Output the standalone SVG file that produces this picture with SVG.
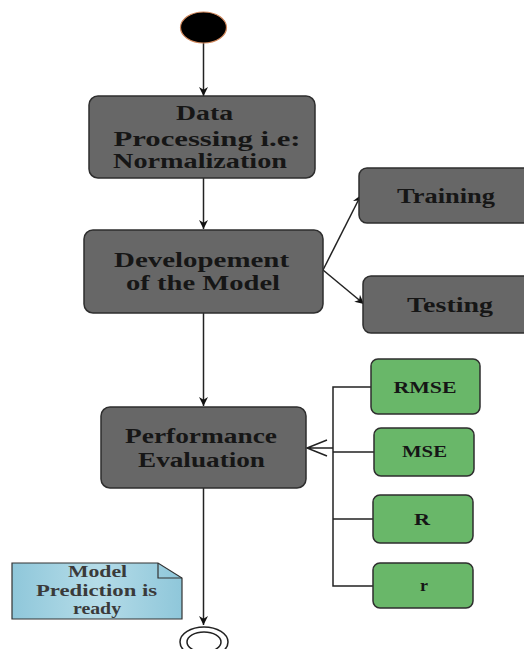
<svg xmlns="http://www.w3.org/2000/svg" width="524" height="649" viewBox="0 0 524 649">
<defs>
<style>
.box{fill:#676767;stroke:#2e2e2e;stroke-width:1.5}
.gbox{fill:#69b769;stroke:#2e2e2e;stroke-width:1.5}
.t{font-family:"Liberation Serif","Times New Roman",serif;font-weight:bold;fill:#161616;text-anchor:middle}
.big{font-size:20px}
.sm{font-size:16px}
.note{fill:#3a3a3a}
.ln{stroke:#222;stroke-width:1.5;fill:none}
</style>
<marker id="ah" viewBox="0 0 10 10" refX="10" refY="5" markerWidth="9" markerHeight="9" orient="auto" markerUnits="userSpaceOnUse">
<path d="M0,0 L10,5 L0,10 L3,5 z" fill="#111"/>
</marker>
<linearGradient id="ng" x1="0" y1="0" x2="1" y2="0">
<stop offset="0" stop-color="#8fc7da"/>
<stop offset="0.5" stop-color="#b5dce8"/>
<stop offset="1" stop-color="#8fc7da"/>
</linearGradient>
</defs>
<g id="connectors">
<line class="ln" x1="203.5" y1="43" x2="203.5" y2="96" marker-end="url(#ah)"/>
<line class="ln" x1="203.5" y1="178" x2="203.5" y2="229" marker-end="url(#ah)"/>
<line class="ln" x1="323" y1="270" x2="361" y2="195" marker-end="url(#ah)"/>
<line class="ln" x1="323" y1="270" x2="364" y2="304" marker-end="url(#ah)"/>
<line class="ln" x1="203.5" y1="313" x2="203.5" y2="406" marker-end="url(#ah)"/>
<line class="ln" x1="203.5" y1="488" x2="203.5" y2="625" marker-end="url(#ah)"/>
<path class="ln" d="M371,387 H333 V586 H373 M333,452 H374 M333,519 H373 M333,448 H307 M327,440 L307,448 L327,456"/>
</g>
<g id="start"><ellipse cx="203.5" cy="27.5" rx="23" ry="15.5" fill="#000" stroke="#d0865a" stroke-width="1.2"/></g>
<g id="data-processing">
<rect class="box" x="89" y="96" width="226" height="82" rx="9"/>
<text class="t big" transform="translate(204.5,120) scale(1.38,1)" textLength="41.3" lengthAdjust="spacingAndGlyphs">Data</text>
<text class="t big" transform="translate(207,146) scale(1.38,1)" textLength="135.5" lengthAdjust="spacingAndGlyphs">Processing i.e:</text>
<text class="t big" transform="translate(200,168) scale(1.38,1)" textLength="126.1" lengthAdjust="spacingAndGlyphs">Normalization</text>
</g>
<g id="development">
<rect class="box" x="84" y="230" width="239" height="83" rx="9"/>
<text class="t big" transform="translate(201.5,267) scale(1.38,1)" textLength="126.8" lengthAdjust="spacingAndGlyphs">Developement</text>
<text class="t big" transform="translate(203,290) scale(1.38,1)" textLength="111.6" lengthAdjust="spacingAndGlyphs">of the Model</text>
</g>
<g id="training">
<rect class="box" x="359" y="168" width="180" height="55" rx="8"/>
<text class="t big" transform="translate(446,203) scale(1.38,1)" textLength="71" lengthAdjust="spacingAndGlyphs">Training</text>
</g>
<g id="testing">
<rect class="box" x="363" y="276" width="180" height="57" rx="8"/>
<text class="t big" transform="translate(450,312) scale(1.38,1)" textLength="62.3" lengthAdjust="spacingAndGlyphs">Testing</text>
</g>
<g id="performance">
<rect class="box" x="101" y="407" width="205" height="81" rx="9"/>
<text class="t big" transform="translate(201,443) scale(1.38,1)" textLength="110.1" lengthAdjust="spacingAndGlyphs">Performance</text>
<text class="t big" transform="translate(201.5,467) scale(1.38,1)" textLength="92" lengthAdjust="spacingAndGlyphs">Evaluation</text>
</g>
<g id="rmse">
<rect class="gbox" x="371" y="359" width="109" height="55" rx="7"/>
<text class="t sm" transform="translate(425,393) scale(1.38,1)" textLength="45.7" lengthAdjust="spacingAndGlyphs">RMSE</text>
</g>
<g id="mse">
<rect class="gbox" x="374" y="428" width="100" height="48" rx="7"/>
<text class="t sm" transform="translate(424.5,457) scale(1.38,1)" textLength="32.6" lengthAdjust="spacingAndGlyphs">MSE</text>
</g>
<g id="R">
<rect class="gbox" x="373" y="495" width="100" height="48" rx="7"/>
<text class="t sm" transform="translate(422,525) scale(1.38,1)" textLength="11.6" lengthAdjust="spacingAndGlyphs">R</text>
</g>
<g id="r">
<rect class="gbox" x="373" y="563" width="100" height="45" rx="7"/>
<text class="t sm" transform="translate(424,591) scale(1.38,1)" textLength="5.8" lengthAdjust="spacingAndGlyphs">r</text>
</g>
<g id="note">
<path d="M12,563 H158 L182,578 V619 H12 Z" fill="url(#ng)" stroke="#333" stroke-width="1.2"/>
<path d="M158,563 V578 H182" fill="none" stroke="#333" stroke-width="1.2"/>
<text class="t sm note" transform="translate(97.5,577) scale(1.38,1)" textLength="42.8" lengthAdjust="spacingAndGlyphs">Model</text>
<text class="t sm note" transform="translate(96.5,596) scale(1.38,1)" textLength="87.7" lengthAdjust="spacingAndGlyphs">Prediction is</text>
<text class="t sm note" transform="translate(97,614) scale(1.38,1)" textLength="34.8" lengthAdjust="spacingAndGlyphs">ready</text>
</g>
<g id="end">
<ellipse cx="204" cy="642" rx="24" ry="15" fill="#fff" stroke="#222" stroke-width="1.5"/>
<ellipse cx="204" cy="642" rx="17" ry="10" fill="#fff" stroke="#222" stroke-width="1.5"/>
</g>
</svg>
